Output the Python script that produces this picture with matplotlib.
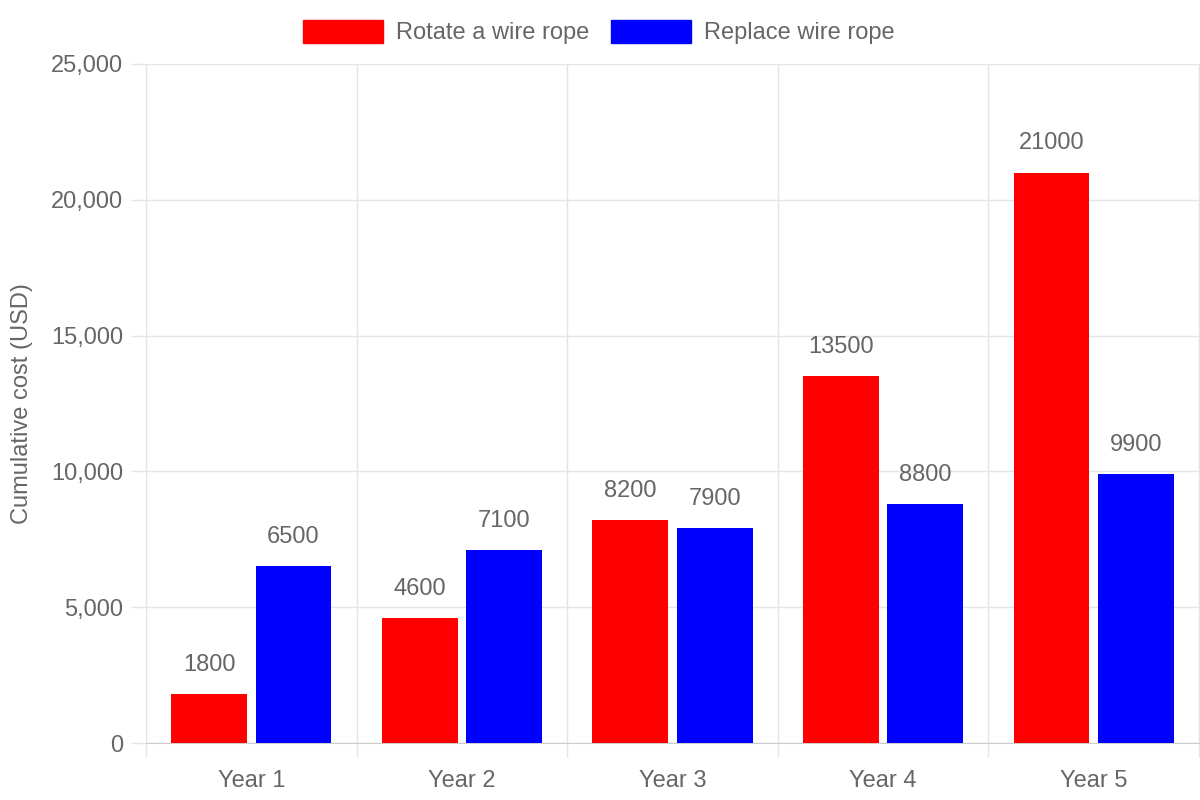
import matplotlib.pyplot as plt
from matplotlib.patches import Rectangle
from matplotlib.ticker import FuncFormatter, FixedLocator
import numpy as np

plt.rcParams['font.family'] = ['Liberation Sans', 'DejaVu Sans']

years = ["Year 1", "Year 2", "Year 3", "Year 4", "Year 5"]
rotate_cost = [1800, 4600, 8200, 13500, 21000]
replace_cost = [6500, 7100, 7900, 8800, 9900]
series_names = ["Rotate a wire rope", "Replace wire rope"]

TEXT = "#666666"
GRID = "#e5e5e5"
FS = 17

fig = plt.figure(figsize=(12, 8), dpi=100)
ax = fig.add_axes([146 / 1200, 1 - 743 / 800, 1053 / 1200, (743 - 64) / 800])

x = np.arange(len(years))
slot = 0.8 / 2
bw = slot * 0.9
b1 = ax.bar(x - slot / 2, rotate_cost, width=bw, color="#ff0000", zorder=3)
b2 = ax.bar(x + slot / 2, replace_cost, width=bw, color="#0000ff", zorder=3)

for bars, vals in ((b1, rotate_cost), (b2, replace_cost)):
    for r, v in zip(bars, vals):
        ax.annotate(str(v), (r.get_x() + r.get_width() / 2, v), xytext=(0, 21),
                    textcoords="offset points", ha="center", va="center",
                    fontsize=FS, color=TEXT)

ax.set_xlim(-0.5, len(years) - 0.5)
ax.set_ylim(0, 25000)
ax.set_xticks(x)
ax.set_xticklabels(years)
ax.xaxis.set_minor_locator(FixedLocator(np.arange(-0.5, len(years), 1.0)))
ax.set_yticks(np.arange(0, 25001, 5000))
ax.yaxis.set_major_formatter(FuncFormatter(lambda v, p: f"{int(v):,}"))

ax.tick_params(axis="x", which="major", length=0, pad=19.5, labelsize=FS, labelcolor=TEXT)
ax.tick_params(axis="x", which="minor", length=10, width=1, color=GRID)
ax.tick_params(axis="y", length=10.5, width=1, color=GRID, pad=6, labelsize=FS, labelcolor=TEXT)

ax.grid(axis="y", which="major", color=GRID, lw=1, zorder=0)
ax.grid(axis="x", which="minor", color=GRID, lw=1, zorder=0)
ax.spines["top"].set_visible(False)
ax.spines["left"].set_color(GRID)
ax.spines["bottom"].set_color("#cccccc")
ax.spines["right"].set_color(GRID)

fig.text(22 / 1200, 1 - 404 / 800, "Cumulative cost (USD)", rotation=90,
         fontsize=FS, color=TEXT, ha="center", va="center")

# legend drawn at top like the reference
fig.patches.append(Rectangle((303 / 1200, 1 - 43 / 800), 80 / 1200, 23 / 800,
                             transform=fig.transFigure, color="#ff0000"))
fig.text(396 / 1200, 1 - 33 / 800, series_names[0], fontsize=FS, color=TEXT, va="center")
fig.patches.append(Rectangle((611 / 1200, 1 - 43 / 800), 80 / 1200, 23 / 800,
                             transform=fig.transFigure, color="#0000ff"))
fig.text(704 / 1200, 1 - 33 / 800, series_names[1], fontsize=FS, color=TEXT, va="center")

fig.savefig("out.png", dpi=100)
